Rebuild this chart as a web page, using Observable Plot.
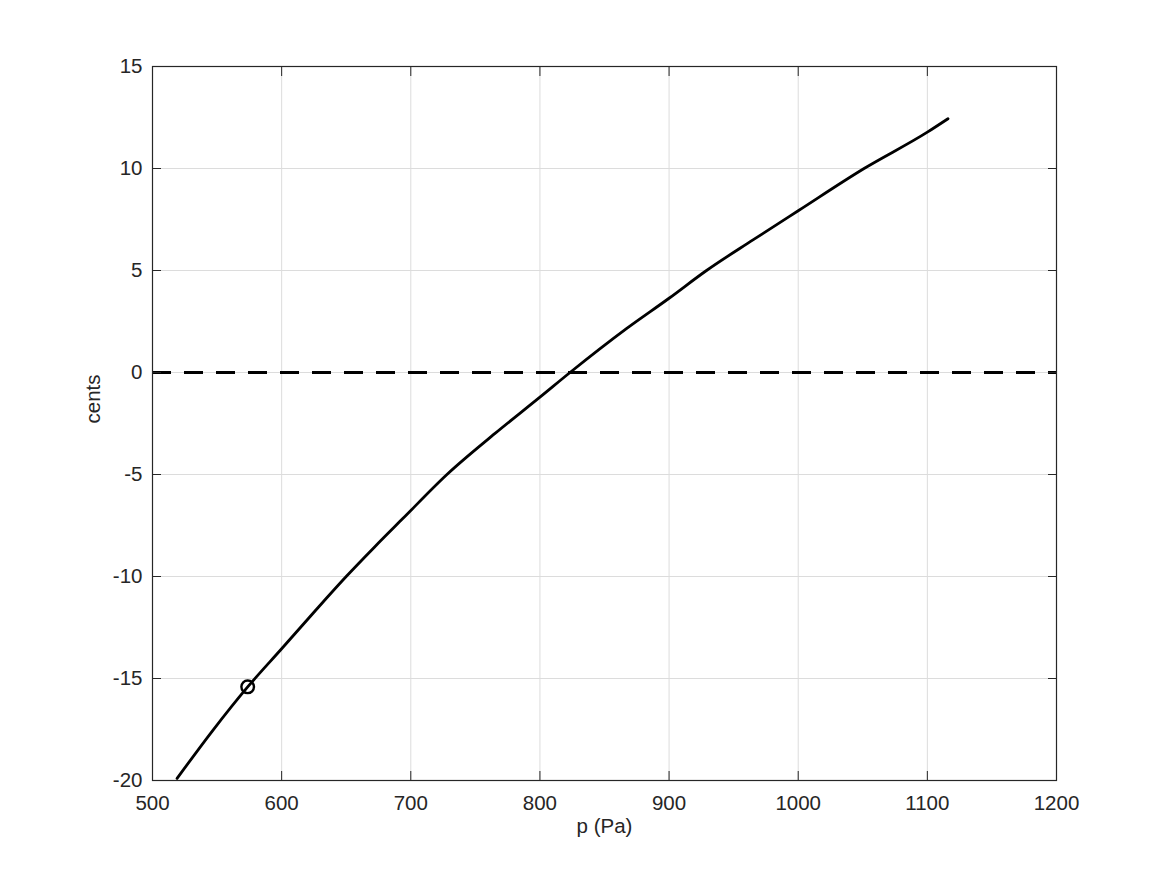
<!DOCTYPE html>
<html>
<head>
<meta charset="utf-8">
<script src="https://cdn.jsdelivr.net/npm/d3@7"></script>
<script src="https://cdn.jsdelivr.net/npm/@observablehq/plot@0.6"></script>
<style>
  html, body { margin: 0; padding: 0; background: #fff; }
</style>
</head>
<body>
<div id="chart"></div>
<script>
// Pressure (Pa) and pitch deviation (cents)
const pressure = [519, 546, 573.7, 600, 625, 650, 672, 694, 728, 765, 800, 823.3, 867, 900, 929, 965, 1000, 1051, 1100, 1116];
const cents    = [-19.9, -17.6, -15.41, -13.54, -11.75, -10.0, -8.55, -7.15, -5.0, -3.0, -1.21, 0.0, 2.15, 3.64, 5.0, 6.5, 7.93, 10.0, 11.78, 12.44];
const markerP = [573.7];
const markerC = [-15.41];
const xTicks = [500, 600, 700, 800, 900, 1000, 1100, 1200];
const yTicks = [-20, -15, -10, -5, 0, 5, 10, 15];
const zeroLine = [0];

const curve = pressure.map((p, i) => ({p, c: cents[i]}));
const marker = markerP.map((p, i) => ({p, c: markerC[i]}));

const ink = "#262626";
const font = "'Liberation Sans', Helvetica, Arial, sans-serif";
const fmt = d => String(d);
const chart = Plot.plot({
  width: 1167,
  height: 875,
  marginLeft: 152,
  marginRight: 111,
  marginTop: 66,
  marginBottom: 95,
  style: {fontSize: "20px", fontFamily: font, color: ink, background: "#fff"},
  x: {domain: [500, 1200], label: null},
  y: {domain: [-20, 15], label: null},
  marks: [
    Plot.gridX(xTicks, {stroke: "#dcdcdc", strokeOpacity: 1, strokeWidth: 1}),
    Plot.gridY(yTicks, {stroke: "#dcdcdc", strokeOpacity: 1, strokeWidth: 1}),
    Plot.ruleY(zeroLine, {stroke: "#000", strokeWidth: 3, strokeDasharray: "19,13"}),
    Plot.line(curve, {x: "p", y: "c", stroke: "#000", strokeWidth: 2.8, curve: "monotone-x"}),
    Plot.dot(marker, {x: "p", y: "c", r: 6.3, stroke: "#000", strokeWidth: 2.4, fill: "none"}),
    Plot.frame({stroke: ink, strokeWidth: 1.2}),
    // inward ticks on all four sides
    Plot.axisX(xTicks, {anchor: "bottom", tickSize: -9, text: null, label: null, stroke: ink}),
    Plot.axisX(xTicks, {anchor: "top", tickSize: -9, text: null, label: null, stroke: ink}),
    Plot.axisY(yTicks, {anchor: "left", tickSize: -9, text: null, label: null, stroke: ink}),
    Plot.axisY(yTicks, {anchor: "right", tickSize: -9, text: null, label: null, stroke: ink}),
    // tick labels
    Plot.axisX(xTicks, {anchor: "bottom", tickSize: 0, tickPadding: 15, label: null, fill: ink, fontSize: 20.5, tickFormat: fmt}),
    Plot.axisY(yTicks, {anchor: "left", tickSize: 0, tickPadding: 10, label: null, fill: ink, fontSize: 20.5, tickFormat: fmt}),
    // axis titles
    Plot.text(["p (Pa)"], {frameAnchor: "bottom", dy: 52, text: d => d, fill: ink, fontSize: 20.5}),
    Plot.text(["cents"], {frameAnchor: "left", dx: -59, rotate: -90, text: d => d, fill: ink, fontSize: 20.5})
  ]
});
document.getElementById("chart").appendChild(chart);
</script>
</body>
</html>
